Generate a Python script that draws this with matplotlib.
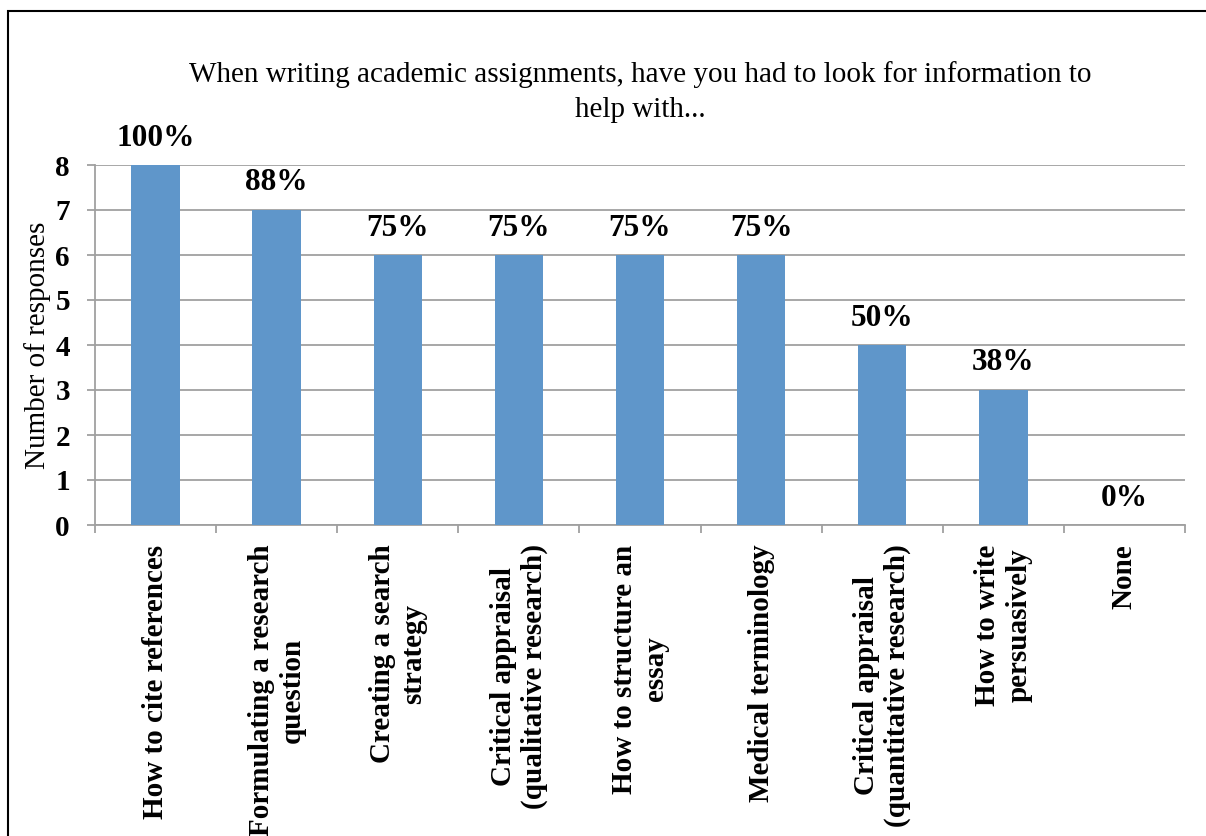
import matplotlib
matplotlib.use("Agg")
import matplotlib.pyplot as plt
from matplotlib.patches import Rectangle
from matplotlib.ticker import FixedLocator, NullFormatter

# Survey responses (8 respondents in total)
categories = [
    "How to cite references",
    "Formulating a research\nquestion",
    "Creating a search\nstrategy",
    "Critical appraisal\n(qualitative research)",
    "How to structure an\nessay",
    "Medical terminology",
    "Critical appraisal\n(quantitative research)",
    "How to write\npersuasively",
    "None",
]
responses = [8, 7, 6, 6, 6, 6, 4, 3, 0]
total_respondents = 8

title = ("When writing academic assignments, have you had to look for information to\n"
         "help with...")

plt.rcParams["font.family"] = ["Liberation Serif", "DejaVu Serif"]

W, H = 1206, 836
fig = plt.figure(figsize=(W / 100, H / 100), dpi=100)
fig.patch.set_facecolor("white")

# Frame around the chart area
fig.patches.append(Rectangle((8 / W, -0.1), 1.2, 1.1 - 11 / H,
                             transform=fig.transFigure, fill=False,
                             edgecolor="black", linewidth=1.5, zorder=10))

ax = fig.add_axes([95 / W, 1 - 525 / H, (1185 - 95) / W, (525 - 165) / H])

grid_col = "#A0A0A0"
x = list(range(len(categories)))
bars = ax.bar(x, responses, width=0.4, color="#5F96CA", zorder=3)

ax.set_xlim(-0.5, len(categories) - 0.5)
ax.set_ylim(0, 8)
ax.set_yticks(range(0, 9))
ax.yaxis.grid(True, color=grid_col, linewidth=1.3, zorder=0)

for side in ("top", "right"):
    ax.spines[side].set_visible(False)
for side in ("left", "bottom"):
    ax.spines[side].set_color(grid_col)
    ax.spines[side].set_linewidth(1.3)

# Category labels at bar centres, tick marks on category boundaries
ax.set_xticks(x)
ax.set_xticklabels(categories, rotation=90, fontsize=21, fontweight="bold",
                   ha="center", va="top", multialignment="center")
ax.tick_params(axis="x", which="major", length=0, pad=14)
ax.xaxis.set_minor_locator(FixedLocator([i - 0.5 for i in range(len(categories) + 1)]))
ax.xaxis.set_minor_formatter(NullFormatter())
ax.tick_params(axis="x", which="minor", length=6, width=1.3, color=grid_col)

ax.tick_params(axis="y", length=6, width=1.3, color=grid_col, pad=12,
               labelsize=21)
for lbl in ax.get_yticklabels():
    lbl.set_fontweight("bold")

ax.set_ylabel("Number of responses", fontsize=21, labelpad=3)

# Percentage of respondents above each bar
for xi, val in zip(x, responses):
    pct = int(val / total_respondents * 100 + 0.5)
    ax.annotate(f"{pct}%", (xi, val), xytext=(0, 9), textcoords="offset points",
                ha="center", va="bottom", fontsize=22.5, fontweight="bold",
                annotation_clip=False)

fig.text(640 / W, 1 - 61 / H, title, ha="center", va="top", fontsize=21,
         linespacing=1.45)

fig.savefig("out.png", dpi=100, facecolor="white")
